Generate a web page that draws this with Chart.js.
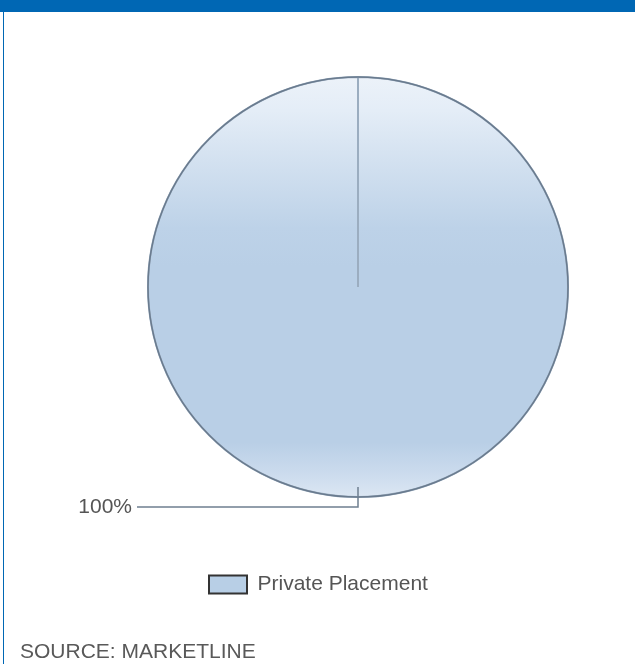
<!DOCTYPE html>
<html>
<head>
<meta charset="utf-8">
<script src="https://cdn.jsdelivr.net/npm/chart.js@4"></script>
<style>
  body { margin: 0; background: #fff; font-family: "Liberation Sans", Arial, sans-serif; }
  #wrap { position: relative; width: 635px; height: 664px; overflow: hidden; }
  #cabecera { position: absolute; left: 0; top: 0; width: 635px; height: 12px; background: #0067b4; }
  #borde { position: absolute; left: 3px; top: 12px; width: 1px; height: 652px; background: #0067b4; }
  #fuente { position: absolute; left: 20px; top: 639px; font-size: 21px; color: #595959; white-space: nowrap; }
  #caja { position: absolute; left: 0; top: 0; width: 635px; height: 664px; }
</style>
</head>
<body>
<div id="wrap">
  <div id="caja"><canvas id="myChart"></canvas></div>
  <div id="cabecera"></div>
  <div id="borde"></div>
  <div id="fuente">SOURCE: MARKETLINE</div>
</div>
<script>
// Datos del grafico
var categorias = ['Private Placement'];
var valores = [100];
var etiquetas = ['100%'];

// Degradado vertical del pastel
function rellenoPastel(context) {
    var chart = context.chart;
    var area = chart.chartArea;
    if (!area) return '#b9cfe6';
    var cy = (area.top + area.bottom) / 2;
    var r = 210;
    var g = chart.ctx.createLinearGradient(0, cy - r, 0, cy + r);
    g.addColorStop(0, '#ecf2f9');
    g.addColorStop(0.08, '#e4edf7');
    g.addColorStop(0.2, '#d3e1f0');
    g.addColorStop(0.36, '#bdd2e8');
    g.addColorStop(0.45, '#b9cfe6');
    g.addColorStop(0.87, '#b9cfe6');
    g.addColorStop(0.95, '#cddcee');
    g.addColorStop(1, '#dce7f3');
    return g;
}

// Borde exterior, linea guia y etiqueta del porcentaje
var guiaEtiqueta = {
    id: 'guiaEtiqueta',
    afterDatasetsDraw: function(chart) {
        var ctx = chart.ctx;
        var meta = chart.getDatasetMeta(0);
        meta.data.forEach(function(arco, i) {
            var p = arco.getProps(['x', 'y', 'startAngle', 'endAngle', 'outerRadius'], true);
            ctx.save();
            // borde exterior mas oscuro
            ctx.strokeStyle = '#6a7b8e';
            ctx.lineWidth = 1.5;
            ctx.beginPath();
            ctx.arc(p.x, p.y, p.outerRadius, p.startAngle, p.endAngle);
            ctx.stroke();

            var medio = (p.startAngle + p.endAngle) / 2;
            var x0 = p.x + Math.cos(medio) * (p.outerRadius - 10);
            var y0 = p.y + Math.sin(medio) * (p.outerRadius - 10);
            var y1 = p.y + Math.sin(medio) * (p.outerRadius + 10);
            var x2 = chart.chartArea.left - 11;
            ctx.strokeStyle = '#6f7f90';
            ctx.lineWidth = 1.5;
            ctx.beginPath();
            ctx.moveTo(x0, y0);
            ctx.lineTo(x0, y1);
            ctx.lineTo(x2, y1);
            ctx.stroke();
            ctx.fillStyle = '#555555';
            ctx.font = '21px "Liberation Sans", Arial, sans-serif';
            ctx.textAlign = 'right';
            ctx.textBaseline = 'middle';
            ctx.fillText(etiquetas[i], x2 - 5, y1);
            ctx.restore();
        });
    }
};

var ctx = document.getElementById('myChart').getContext('2d');
var myChart = new Chart(ctx, {
    type: 'pie',
    data: {
        labels: categorias,
        datasets: [{
            data: valores,
            backgroundColor: rellenoPastel,
            borderColor: '#9badc0',
            borderWidth: 2,
            radius: 210
        }]
    },
    options: {
        responsive: true,
        maintainAspectRatio: false,
        animation: false,
        layout: { padding: { left: 148, right: 67, top: 61, bottom: 59 } },
        plugins: {
            tooltip: { enabled: false },
            legend: {
                position: 'bottom',
                align: 'start',
                labels: {
                    padding: 61,
                    boxWidth: 38,
                    boxHeight: 18,
                    color: '#555555',
                    font: { size: 21, family: '"Liberation Sans", Arial, sans-serif' },
                    generateLabels: function(chart) {
                        var items = Chart.PieController.overrides.plugins.legend.labels.generateLabels(chart);
                        items.forEach(function(it) {
                            it.fillStyle = '#b8cfe6';
                            it.strokeStyle = '#333333';
                            it.lineWidth = 2;
                        });
                        return items;
                    }
                }
            }
        }
    },
    plugins: [guiaEtiqueta]
});
</script>
</body>
</html>
